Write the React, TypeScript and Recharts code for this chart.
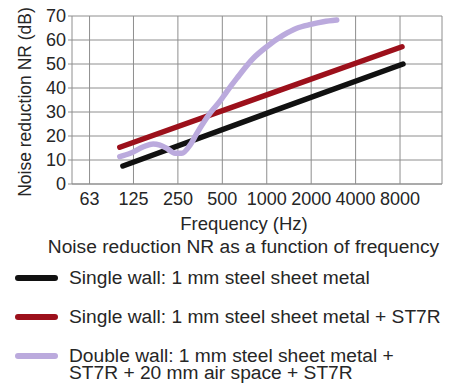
import React from 'react';
import { LineChart, Line, XAxis, YAxis, CartesianGrid } from 'recharts';

// Tick labels
const frequencyTicks = [63, 125, 250, 500, 1000, 2000, 4000, 8000];
const nrTicks = [0, 10, 20, 30, 40, 50, 60, 70];

// Series names
const seriesNames = [
  'Single wall: 1 mm steel sheet metal',
  'Single wall: 1 mm steel sheet metal + ST7R',
  'Double wall: 1 mm steel sheet metal +\nST7R + 20 mm air space + ST7R',
];

// Series values (frequency in Hz, noise reduction in dB)
const singleWallFreq = [106, 1000, 8380];
const singleWallNR = [7.5, 29.4, 50];
const st7rFreq = [101, 1000, 8250];
const st7rNR = [15.3, 37.1, 57.2];
const doubleWallFreq = [101, 119, 146, 170, 189, 210, 239, 266, 302, 336, 413, 482, 536, 626, 811, 1000, 1295, 1597, 1987, 2418, 2980];
const doubleWallNR = [11.4, 12.8, 15.5, 16.7, 16.2, 14.9, 12.8, 12.8, 16.2, 21.1, 29.5, 34.5, 38.5, 44, 52.4, 57.2, 62, 64.9, 66.5, 67.6, 68.3];

const toRows = (f: number[], v: number[]) => f.map((x, i) => ({ f: x, nr: v[i] }));

const singleWallData = toRows(singleWallFreq, singleWallNR);
const st7rData = toRows(st7rFreq, st7rNR);
const doubleWallData = toRows(doubleWallFreq, doubleWallNR);

const COLORS = ['#111111', '#9c101b', '#bbaadd'];
const FONT = '"Liberation Sans", Arial, Helvetica, sans-serif';
const TEXT = '#262626';
const GRID = '#8e8e8e';

export default function App() {
  const legendTops = [269, 308, 347];
  return (
    <div style={{ position: 'absolute', left: 0, top: 0, width: 454, height: 383, background: '#fff', fontFamily: FONT, overflow: 'hidden' }}>
      <LineChart width={454} height={235} margin={{ top: 16, right: 12, bottom: 0, left: 0 }} style={{ fontFamily: FONT }}>
        <CartesianGrid stroke={GRID} strokeWidth={1} />
        <XAxis
          dataKey="f"
          type="number"
          scale="log"
          domain={[47.9, 15400]}
          ticks={frequencyTicks}
          allowDataOverflow
          height={51}
          tickLine={false}
          axisLine={{ stroke: GRID }}
          tick={{ fontSize: 18, fill: TEXT }}
          interval={0}
          label={{ value: 'Frequency (Hz)', position: 'insideBottom', offset: 5, dx: -13, style: { fontSize: 18.5, fill: TEXT } }}
        />
        <YAxis
          type="number"
          domain={[0, 70]}
          ticks={nrTicks}
          width={72}
          axisLine={false}
          tickSize={4}
          tickLine={{ stroke: GRID }}
          tick={{ fontSize: 18, fill: TEXT }}
          interval={0}
          label={{ value: 'Noise reduction NR (dB)', angle: -90, position: 'center', dx: -11, dy: 2, style: { fontSize: 17.5, fill: TEXT, textAnchor: 'middle' } }}
        />
        <Line data={singleWallData} dataKey="nr" type="linear" stroke={COLORS[0]} strokeWidth={5.5} strokeLinecap="round" dot={false} isAnimationActive={false} />
        <Line data={st7rData} dataKey="nr" type="linear" stroke={COLORS[1]} strokeWidth={5.5} strokeLinecap="round" dot={false} isAnimationActive={false} />
        <Line data={doubleWallData} dataKey="nr" type="monotone" stroke={COLORS[2]} strokeWidth={5.5} strokeLinecap="round" dot={false} isAnimationActive={false} />
      </LineChart>
      <div style={{ position: 'absolute', left: 243.5, top: 237, transform: 'translateX(-50%)', whiteSpace: 'nowrap', fontSize: 19.2, lineHeight: '20px', color: TEXT }}>
        Noise reduction NR as a function of frequency
      </div>
      {seriesNames.map((name, i) => (
        <div key={i} style={{ position: 'absolute', left: 15, top: legendTops[i], display: 'flex', alignItems: 'flex-start' }}>
          <div style={{ width: 43, height: 6, borderRadius: 3, background: COLORS[i], marginTop: 6, flex: 'none' }} />
          <div style={{ marginLeft: 11, fontSize: 19.2, lineHeight: '17px', color: TEXT, whiteSpace: 'pre' }}>{name}</div>
        </div>
      ))}
    </div>
  );
}
